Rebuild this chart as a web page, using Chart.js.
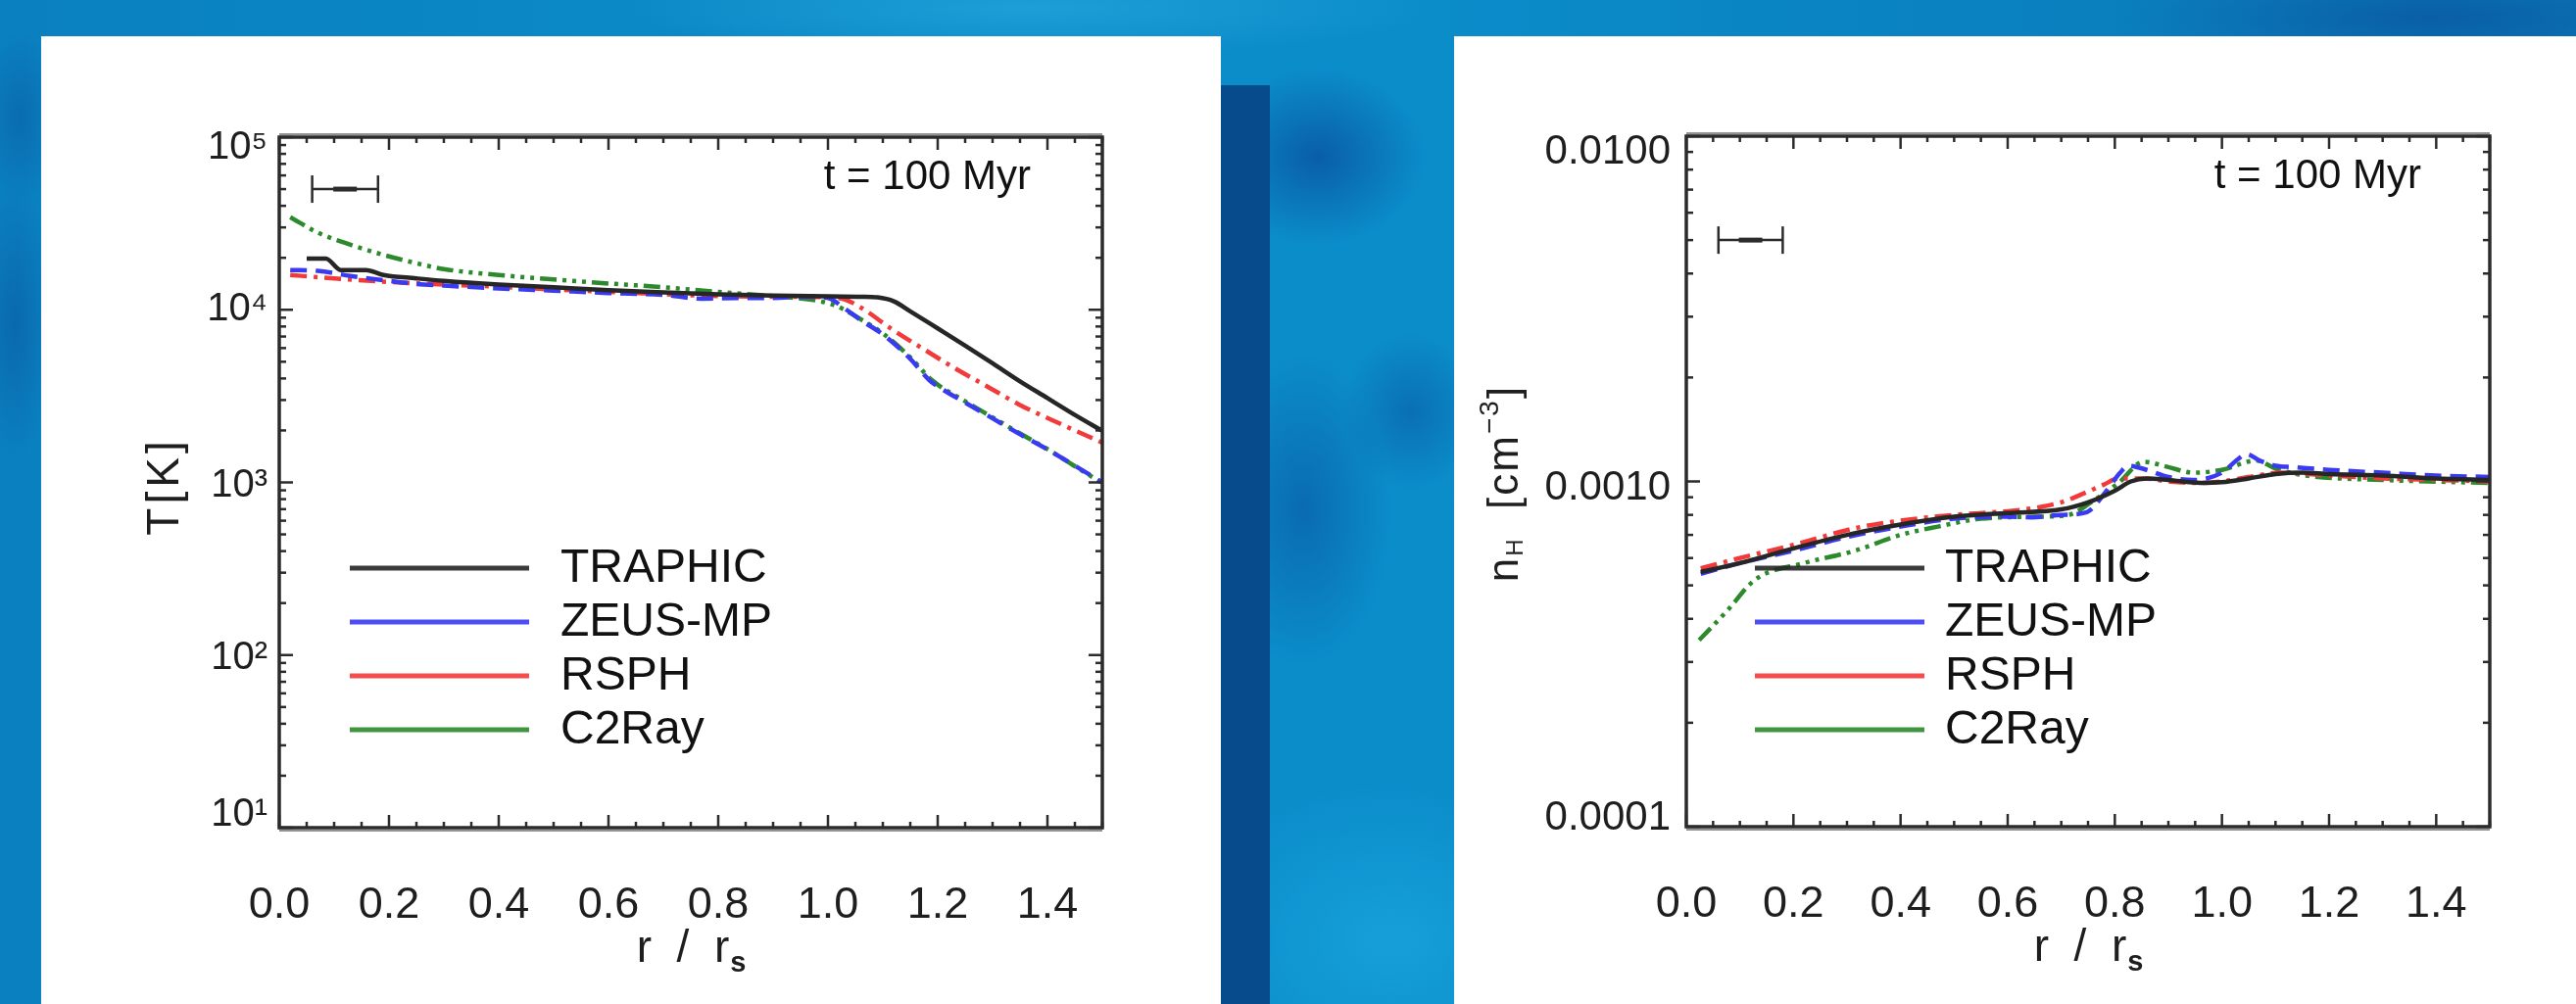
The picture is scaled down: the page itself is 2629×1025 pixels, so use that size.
<!DOCTYPE html>
<html><head><meta charset="utf-8">
<script src="https://cdn.jsdelivr.net/npm/chart.js@4/dist/chart.umd.min.js"></script>
<style>
html,body{margin:0;padding:0;}
body{width:2629px;height:1025px;overflow:hidden;position:relative;
background:
 radial-gradient(ellipse 110px 90px at 1345px 160px, rgba(8,55,140,0.55), rgba(8,55,140,0)),
 radial-gradient(ellipse 90px 160px at 1330px 520px, rgba(8,55,140,0.40), rgba(8,55,140,0)),
 radial-gradient(ellipse 70px 80px at 1440px 420px, rgba(8,55,140,0.35), rgba(8,55,140,0)),
 radial-gradient(ellipse 220px 160px at 1420px 960px, rgba(30,175,230,0.55), rgba(30,175,230,0)),
 radial-gradient(ellipse 420px 50px at 1050px 8px, rgba(60,185,235,0.4), rgba(60,185,235,0)),
 radial-gradient(ellipse 320px 60px at 2480px 18px, rgba(10,60,140,0.45), rgba(10,60,140,0)),
 radial-gradient(ellipse 40px 140px at 15px 330px, rgba(10,60,140,0.35), rgba(10,60,140,0)),
 radial-gradient(ellipse 40px 90px at 20px 120px, rgba(10,60,140,0.3), rgba(10,60,140,0)),
 linear-gradient(90deg,#0a80c0 0%,#0b8cc9 35%,#0b8dca 55%,#0a84c3 70%,#0a78b8 100%);}
#strip{position:absolute;left:1246px;top:87px;width:50px;height:938px;background:#074b8c;}
canvas{position:absolute;background:#fff;}
</style></head><body>
<div id="strip"></div>
<canvas id="cT" width="1204" height="988" style="left:42px;top:37px"></canvas>
<canvas id="cN" width="1145" height="988" style="left:1484px;top:37px"></canvas>
<script>
// ---------------- data ----------------
const SERIES = ['TRAPHIC', 'ZEUS-MP', 'RSPH', 'C2Ray'];

const X_TICKS = [0, 0.2, 0.4, 0.6, 0.8, 1.0, 1.2, 1.4];
const X_TICK_LABELS = ['0.0', '0.2', '0.4', '0.6', '0.8', '1.0', '1.2', '1.4'];
const T_TICKS = [10, 100, 1000, 10000, 100000];
const T_TICK_LABELS = ['10¹', '10²', '10³', '10⁴', '10⁵'];
const N_TICKS = [0.0001, 0.001, 0.01];
const N_TICK_LABELS = ['0.0001', '0.0010', '0.0100'];

// Temperature panel
const R_T_TRAPHIC = [0.05, 0.085, 0.112, 0.158, 0.19, 0.25, 0.3, 0.4, 0.5, 0.6, 0.7, 0.8, 0.9, 1.0, 1.06, 1.09, 1.12, 1.15, 1.2, 1.25, 1.3, 1.35, 1.4, 1.45, 1.5];
const T_TRAPHIC   = [19800, 19800, 17000, 17000, 15900, 15200, 14700, 14000, 13500, 13000, 12600, 12300, 12100, 11950, 11900, 11800, 11200, 9800, 7800, 6200, 4900, 3850, 3080, 2460, 1990];

const R_T_ZEUS = [0.02, 0.07, 0.13, 0.2, 0.25, 0.3, 0.4, 0.5, 0.6, 0.7, 0.77, 0.85, 0.9, 0.96, 1.0, 1.03, 1.06, 1.1, 1.15, 1.185, 1.2, 1.25, 1.3, 1.35, 1.4, 1.45, 1.5];
const T_ZEUS   = [17000, 16800, 15700, 14700, 14100, 13800, 13300, 12900, 12500, 12200, 11600, 11700, 11700, 11900, 11700, 10200, 8700, 7200, 5200, 3900, 3600, 2900, 2350, 1900, 1550, 1250, 1000];

const R_T_RSPH = [0.02, 0.1, 0.2, 0.3, 0.4, 0.5, 0.6, 0.7, 0.8, 0.9, 1.0, 1.03, 1.06, 1.117, 1.175, 1.233, 1.29, 1.349, 1.42, 1.5];
const T_RSPH   = [15900, 15200, 14500, 14000, 13600, 13100, 12700, 12300, 12000, 11900, 11800, 11500, 10300, 7700, 5900, 4550, 3600, 2820, 2210, 1700];

const R_T_C2RAY = [0.02, 0.07, 0.13, 0.19, 0.25, 0.3, 0.4, 0.5, 0.6, 0.7, 0.8, 0.9, 0.98, 1.013, 1.03, 1.06, 1.1, 1.15, 1.19, 1.25, 1.3, 1.35, 1.4, 1.45, 1.5];
const T_C2RAY   = [34400, 28000, 23800, 20800, 18600, 17200, 15900, 15000, 14200, 13500, 12700, 12000, 11300, 10600, 10000, 8800, 7300, 5300, 3900, 2950, 2380, 1920, 1560, 1240, 990];

// Density panel
const R_N_TRAPHIC = [0.027, 0.1, 0.2, 0.3, 0.4, 0.5, 0.6, 0.7, 0.75, 0.8, 0.83, 0.86, 0.9, 0.96, 1.0, 1.05, 1.1, 1.15, 1.2, 1.3, 1.4, 1.5];
const N_TRAPHIC   = [0.000547, 0.00058, 0.00064, 0.0007, 0.00075, 0.00079, 0.00081, 0.00083, 0.00087, 0.00094, 0.001, 0.00102, 0.00101, 0.00099, 0.000995, 0.00102, 0.00105, 0.00106, 0.00105, 0.00104, 0.00102, 0.00101];

const R_N_ZEUS = [0.027, 0.1, 0.2, 0.3, 0.4, 0.5, 0.6, 0.645, 0.7, 0.748, 0.78, 0.81, 0.825, 0.86, 0.9, 0.947, 1.0, 1.03, 1.046, 1.07, 1.1, 1.134, 1.2, 1.3, 1.4, 1.5];
const N_ZEUS   = [0.00054, 0.00058, 0.00063, 0.00069, 0.00074, 0.00078, 0.00079, 0.000787, 0.0008, 0.000815, 0.00092, 0.00106, 0.00111, 0.00108, 0.00103, 0.00101, 0.00106, 0.00116, 0.0012, 0.00115, 0.00111, 0.0011, 0.00108, 0.00106, 0.00104, 0.00103];

const R_N_RSPH = [0.027, 0.1, 0.2, 0.315, 0.4, 0.5, 0.6, 0.655, 0.7, 0.737, 0.78, 0.807, 0.854, 0.9, 0.95, 1.0, 1.05, 1.11, 1.2, 1.3, 1.4, 1.5];
const N_RSPH   = [0.00056, 0.0006, 0.000655, 0.000732, 0.00077, 0.0008, 0.00082, 0.00084, 0.00087, 0.000916, 0.00098, 0.00102, 0.00102, 0.001, 0.00099, 0.001, 0.00103, 0.00106, 0.00104, 0.00102, 0.00101, 0.001];

const R_N_C2RAY = [0.024, 0.075, 0.129, 0.22, 0.315, 0.4, 0.47, 0.55, 0.65, 0.714, 0.76, 0.807, 0.854, 0.9, 0.947, 1.0, 1.064, 1.1, 1.157, 1.3, 1.5];
const N_C2RAY   = [0.000347, 0.00042, 0.00052, 0.00058, 0.00063, 0.0007, 0.00074, 0.00078, 0.00079, 0.0008, 0.00088, 0.00099, 0.00114, 0.0011, 0.00106, 0.00108, 0.00115, 0.00109, 0.00104, 0.00101, 0.00099];

// resolution bar (r range) and its height in each panel
const BAR_R = [0.06, 0.18];
const BAR_T = 50000;
const BAR_N = 0.005;
const TIME_LABEL = 't = 100 Myr';

// ---------------- rendering ----------------
const FONT = "'Liberation Sans', Arial, Helvetica, sans-serif";
Chart.defaults.font.family = FONT;
Chart.defaults.color = '#1e1e1e';

const STYLES = [
  {color: '#262626', dash: []},
  {color: '#3a3af2', dash: [17, 9]},
  {color: '#f23a3a', dash: [17, 7, 4, 7]},
  {color: '#2c8a2c', dash: [17, 6, 4, 6, 4, 6, 4, 6]}
];
// vertical nudges of the y tick labels (px, + = down), mimicking the original layout
const T_LABEL_NUDGE = [-13, 3, 3, 0, 11];
const N_LABEL_NUDGE = [-9, 7, 16];

function pts(R, V) { return R.map((r, i) => ({x: r, y: V[i]})); }
function makeDatasets(pairs) {
  return pairs.map((p, i) => ({
    label: SERIES[i], data: pts(p[0], p[1]),
    borderColor: STYLES[i].color, borderDash: STYLES[i].dash,
    borderWidth: 4.5, pointRadius: 0, fill: false,
    cubicInterpolationMode: 'monotone'
  }));
}

function seg(ctx, x0, y0, x1, y1) { ctx.beginPath(); ctx.moveTo(x0, y0); ctx.lineTo(x1, y1); ctx.stroke(); }

const framePlugin = {
  id: 'frameTicks',
  afterDatasetsDraw(chart, args, o) {
    const ctx = chart.ctx, a = chart.chartArea;
    const xs = chart.scales.x, ys = chart.scales.y;
    ctx.save();
    ctx.setLineDash([]);
    ctx.strokeStyle = '#2b2b2b';
    // x ticks, bottom and top
    ctx.lineWidth = 2.5;
    const nx = Math.round((xs.max - xs.min) / o.xMinor);
    for (let k = 0; k <= nx; k++) {
      const px = xs.getPixelForValue(xs.min + k * o.xMinor);
      const len = (k % o.xMajorEvery === 0) ? 13 : 6;
      seg(ctx, px, a.bottom, px, a.bottom - len);
      seg(ctx, px, a.top, px, a.top + len);
    }
    // log y ticks, left and right
    const e0 = Math.floor(Math.log10(ys.min) + 1e-9), e1 = Math.ceil(Math.log10(ys.max) - 1e-9);
    for (let e = e0; e <= e1; e++) {
      for (let m = 1; m <= 9; m++) {
        const v = m * Math.pow(10, e);
        if (v < ys.min * 0.999 || v > ys.max * 1.001) continue;
        const py = ys.getPixelForValue(v);
        const len = m === 1 ? 14 : 7;
        seg(ctx, a.left, py, a.left + len, py);
        seg(ctx, a.right, py, a.right - len, py);
      }
    }
    // frame
    ctx.lineWidth = 3.5;
    ctx.strokeRect(a.left, a.top, a.right - a.left, a.bottom - a.top);
    ctx.lineWidth = 2;
    ctx.strokeStyle = 'rgba(40,40,40,0.5)';
    seg(ctx, a.left, a.top - 3, a.right, a.top - 3);
    seg(ctx, a.left, a.bottom + 3, a.right, a.bottom + 3);
    ctx.strokeStyle = '#2b2b2b';

    // resolution bar
    const bx0 = xs.getPixelForValue(o.bar.r[0]), bx1 = xs.getPixelForValue(o.bar.r[1]);
    const by = ys.getPixelForValue(o.bar.v);
    ctx.lineWidth = 2.5;
    seg(ctx, bx0, by, bx1, by);
    seg(ctx, bx0, by - 14, bx0, by + 14);
    seg(ctx, bx1, by - 14, bx1, by + 14);
    ctx.lineWidth = 5;
    const bc = (bx0 + bx1) / 2;
    seg(ctx, bc - 12, by, bc + 12, by);

    // time label
    ctx.fillStyle = '#111';
    ctx.font = '42px ' + FONT;
    ctx.textAlign = 'right';
    ctx.textBaseline = 'alphabetic';
    ctx.fillText(o.timeLabel, a.right - o.timeDx, a.top + 53);

    // legend
    chart.data.datasets.forEach((ds, i) => {
      const yy = a.top + o.legend.y0 + i * o.legend.dy;
      ctx.strokeStyle = ds.borderColor;
      ctx.globalAlpha = 0.9;
      ctx.lineWidth = 5;
      seg(ctx, a.left + o.legend.x0, yy, a.left + o.legend.x1, yy);
      ctx.globalAlpha = 1;
      ctx.fillStyle = '#111';
      ctx.font = '48px ' + FONT;
      ctx.textAlign = 'left';
      ctx.textBaseline = 'middle';
      ctx.fillText(ds.label, a.left + o.legend.tx, yy + 1);
    });

    // x axis title: r / r_s
    const cx = (a.left + a.right) / 2, tb = a.bottom + 137;
    ctx.fillStyle = '#1e1e1e';
    ctx.textAlign = 'left';
    ctx.textBaseline = 'alphabetic';
    ctx.font = '46px ' + FONT;
    const main = 'r  /  r';
    const w1 = ctx.measureText(main).width;
    ctx.font = 'bold 29px ' + FONT;
    const w2 = ctx.measureText('s').width;
    const x0 = cx - (w1 + w2) / 2;
    ctx.font = '46px ' + FONT;
    ctx.fillText(main, x0, tb);
    ctx.font = 'bold 29px ' + FONT;
    ctx.fillText('s', x0 + w1 + 1, tb + 10);

    // y axis title (rotated), drawn from pieces
    ctx.save();
    ctx.translate(a.left - o.yTitle.dx, (a.top + a.bottom) / 2 + o.yTitle.dy);
    ctx.rotate(-Math.PI / 2);
    ctx.letterSpacing = o.yTitle.spacing + 'px';
    let total = 0;
    o.yTitle.parts.forEach(p => { ctx.font = p.f + 'px ' + FONT; p.w = ctx.measureText(p.t).width; total += p.w; });
    let xx = -total / 2;
    ctx.textAlign = 'left';
    ctx.textBaseline = 'middle';
    o.yTitle.parts.forEach(p => { ctx.font = p.f + 'px ' + FONT; ctx.fillText(p.t, xx, p.dy); xx += p.w; });
    ctx.restore();

    ctx.restore();
  }
};

function makeChart(id, datasets, yMin, yMax, yTicks, yLabels, nudge, yFont, yPad, pad, plug) {
  return new Chart(document.getElementById(id), {
    type: 'line',
    data: {datasets},
    plugins: [framePlugin],
    options: {
      responsive: false, animation: false, devicePixelRatio: 1,
      layout: {padding: pad},
      plugins: {legend: {display: false}, tooltip: {enabled: false}, frameTicks: plug},
      scales: {
        x: {
          type: 'linear', min: 0, max: 1.5,
          grid: {display: false, drawTicks: false, tickLength: 0}, border: {display: false},
          afterBuildTicks: s => { s.ticks = X_TICKS.map(v => ({value: v})); },
          afterFit: s => { s.height = 150; },
          ticks: {font: {size: 45}, color: '#1e1e1e', padding: 53, maxRotation: 0, autoSkip: false,
                  callback: (v, i) => X_TICK_LABELS[i]}
        },
        y: {
          type: 'logarithmic', min: yMin, max: yMax,
          grid: {display: false, drawTicks: false, tickLength: 0}, border: {display: false},
          afterBuildTicks: s => { s.ticks = yTicks.map(v => ({value: v})); },
          afterFit: s => { s.width = 150; },
          ticks: {
            color: '#1e1e1e', padding: yPad, autoSkip: false,
            font: c => ({size: yFont, lineHeight: Math.max(2, 2 * Math.abs(nudge[c.index] || 0)) + 'px'}),
            callback: (v, i) => {
              const s = nudge[i] || 0, lbl = yLabels[i];
              return s > 0 ? ['', lbl] : (s < 0 ? [lbl, ''] : lbl);
            }
          }
        }
      }
    }
  });
}

makeChart('cT',
  makeDatasets([[R_T_TRAPHIC, T_TRAPHIC], [R_T_ZEUS, T_ZEUS], [R_T_RSPH, T_RSPH], [R_T_C2RAY, T_C2RAY]]),
  10, 100000, T_TICKS, T_TICK_LABELS, T_LABEL_NUDGE, 40, 12,
  {left: 93, right: 121, top: 103, bottom: 30},
  {xMinor: 0.05, xMajorEvery: 4, bar: {r: BAR_R, v: BAR_T}, timeLabel: TIME_LABEL, timeDx: 73,
   legend: {x0: 72, x1: 255, tx: 287, y0: 440, dy: 55},
   yTitle: {dx: 116, dy: 4, spacing: 4, parts: [{t: 'T[K]', f: 46, dy: 0}]}});

makeChart('cN',
  makeDatasets([[R_N_TRAPHIC, N_TRAPHIC], [R_N_ZEUS, N_ZEUS], [R_N_RSPH, N_RSPH], [R_N_C2RAY, N_C2RAY]]),
  0.0001, 0.01, N_TICKS, N_TICK_LABELS, N_LABEL_NUDGE, 42, 16,
  {left: 87, right: 88, top: 102, bottom: 31},
  {xMinor: 0.05, xMajorEvery: 4, bar: {r: BAR_R, v: BAR_N}, timeLabel: TIME_LABEL, timeDx: 70,
   legend: {x0: 70, x1: 243, tx: 264, y0: 441, dy: 55},
   yTitle: {dx: 184, dy: 2, spacing: 2, parts: [
     {t: 'n', f: 44, dy: 0}, {t: 'H', f: 24, dy: 10}, {t: '  [cm', f: 44, dy: 0},
     {t: '−3', f: 28, dy: -16}, {t: ']', f: 44, dy: 0}]}});
</script>
</body></html>
